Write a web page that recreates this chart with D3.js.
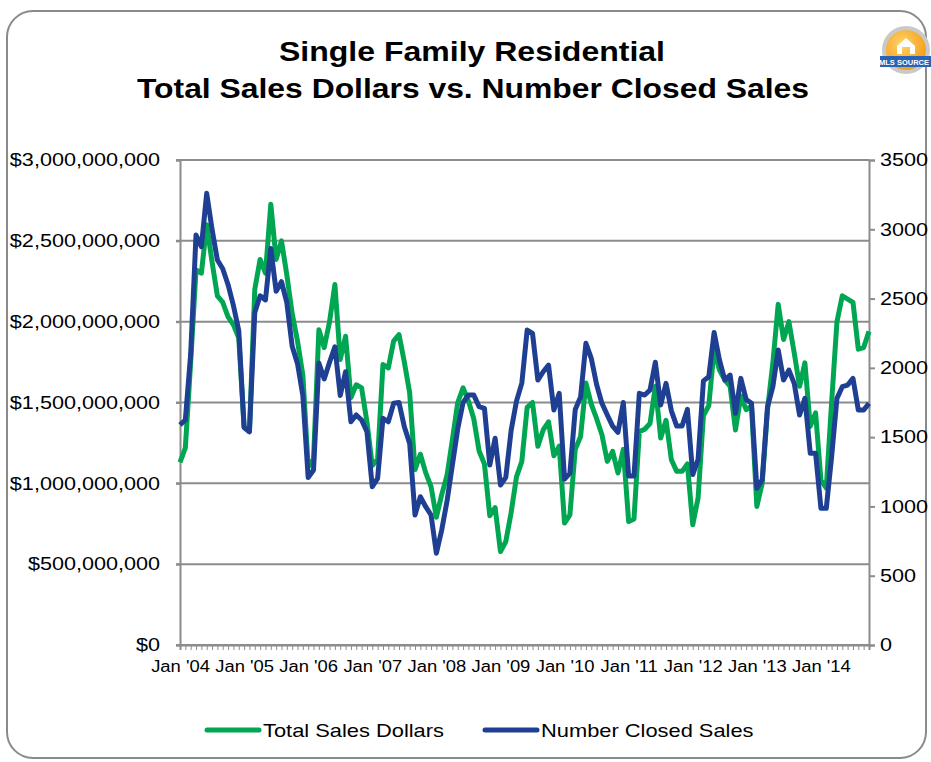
<!DOCTYPE html>
<html>
<head>
<meta charset="utf-8">
<script src="https://cdn.jsdelivr.net/npm/d3@7"></script>
<style>
html, body { margin: 0; padding: 0; background: #fff; }
svg { display: block; font-family: "Liberation Sans", Arial, Helvetica, sans-serif; }
</style>
</head>
<body>
<svg id="chart" width="931" height="762"></svg>
<script>
// monthly data, Jan 2004 - Oct 2014
// total sales dollars, in millions
var salesDollars = [
    1130, 1220, 1750, 2320, 2300, 2600, 2370, 2160, 2120, 2030, 1980, 1900,
    1350, 1320, 2200, 2385, 2300, 2726, 2385, 2500, 2290, 2050, 1880, 1670,
    1100, 1150, 1950, 1840, 2000, 2230, 1766, 1910, 1530, 1610, 1590, 1380,
    1110, 1150, 1735, 1714, 1880, 1920, 1750, 1560, 1085, 1180, 1066, 980,
    790, 930, 1050, 1270, 1500, 1590, 1510, 1400, 1200, 1120, 800, 850,
    578, 640, 820, 1040, 1136, 1470, 1500, 1230, 1330, 1380, 1170, 1230,
    754, 805, 1210, 1290, 1620, 1490, 1400, 1300, 1136, 1198, 1064, 1210,
    764, 780, 1320, 1335, 1370, 1600, 1280, 1390, 1146, 1074, 1074, 1120,
    744, 909, 1420, 1480, 1830, 1700, 1640, 1600, 1330, 1540, 1456, 1477,
    857, 1000, 1456, 1745, 2107, 1890, 2000, 1807, 1600, 1745, 1352, 1436,
    1020, 970, 1500, 2000, 2160, 2140, 2120, 1830, 1840, 1940
];

// number of closed sales
var closedSales = [
    1588, 1624, 2100, 2959, 2874, 3260, 3000, 2778, 2715, 2600, 2450, 2270,
    1570, 1539, 2400, 2520, 2490, 2862, 2553, 2622, 2470, 2156, 2030, 1800,
    1208, 1263, 2035, 1920, 2040, 2152, 1800, 1972, 1611, 1660, 1624, 1539,
    1142, 1203, 1636, 1611, 1744, 1750, 1575, 1455, 938, 1070, 998, 938,
    662, 830, 1040, 1300, 1560, 1750, 1804, 1804, 1720, 1708, 1299, 1492,
    1155, 1210, 1550, 1760, 1890, 2273, 2249, 1912, 1972, 2020, 1696, 1816,
    1197, 1240, 1700, 1790, 2177, 2069, 1880, 1744, 1660, 1580, 1535, 1750,
    1220, 1220, 1816, 1804, 1840, 2040, 1732, 1888, 1690, 1580, 1580, 1700,
    1230, 1340, 1906, 1936, 2255, 2057, 1912, 1948, 1672, 1924, 1772, 1744,
    1131, 1191, 1720, 1864, 2129, 1912, 1984, 1888, 1660, 1780, 1383, 1383,
    986, 986, 1359, 1780, 1864, 1876, 1924, 1696, 1696, 1744
];

var xTickLabels = ["Jan '04", "Jan '05", "Jan '06", "Jan '07", "Jan '08", "Jan '09",
                   "Jan '10", "Jan '11", "Jan '12", "Jan '13", "Jan '14"];
var dollarTicks = [0, 500, 1000, 1500, 2000, 2500, 3000];
var countTicks = [0, 500, 1000, 1500, 2000, 2500, 3000, 3500];
var seriesNames = ["Total Sales Dollars", "Number Closed Sales"];
var seriesColors = ["#00a651", "#1f3f92"];

(function() {
    var svg = d3.select('#chart');
    var gridColor = '#8c8c8c';

    // widen text a bit, the original chart is stretched horizontally
    function stretch(sel, k) {
        sel.each(function() {
            var w = this.getComputedTextLength();
            d3.select(this).attr('textLength', w * k).attr('lengthAdjust', 'spacingAndGlyphs');
        });
    }

    // frame
    svg.append('rect')
        .attr('x', 7).attr('y', 11)
        .attr('width', 919).attr('height', 747)
        .attr('rx', 26).attr('ry', 26)
        .attr('fill', '#fff')
        .attr('stroke', '#8a8a8a')
        .attr('stroke-width', 2);

    // title
    var title = svg.append('g').attr('font-weight', 'bold').attr('fill', '#000').attr('text-anchor', 'middle');
    title.append('text').attr('x', 472).attr('y', 61).attr('font-size', 28)
        .text('Single Family Residential')
        .attr('textLength', 386).attr('lengthAdjust', 'spacingAndGlyphs');
    title.append('text').attr('x', 473).attr('y', 98).attr('font-size', 28)
        .text('Total Sales Dollars vs. Number Closed Sales')
        .attr('textLength', 672).attr('lengthAdjust', 'spacingAndGlyphs');

    // logo
    var logo = svg.append('g').attr('transform', 'translate(906, 50)');
    var grad = svg.append('defs').append('radialGradient').attr('id', 'logoGrad')
        .attr('cx', '40%').attr('cy', '35%').attr('r', '70%');
    grad.append('stop').attr('offset', '0%').attr('stop-color', '#ffd36a');
    grad.append('stop').attr('offset', '100%').attr('stop-color', '#f29a12');
    logo.append('circle').attr('r', 24).attr('fill', '#c9c9c9');
    logo.append('circle').attr('r', 20).attr('fill', 'url(#logoGrad)');
    logo.append('path')
        .attr('d', 'M-9,4 L-9,-4 L0,-12 L9,-4 L9,4 L4,4 L4,-3 L-4,-3 L-4,4 Z')
        .attr('fill', '#fff');
    logo.append('rect').attr('x', -26).attr('y', 6).attr('width', 52).attr('height', 11).attr('fill', '#2a63b5');
    logo.append('text').attr('x', -2).attr('y', 15).attr('text-anchor', 'middle')
        .attr('font-size', 7.5).attr('font-weight', 'bold').attr('fill', '#fff').text('MLS SOURCE');

    // scales
    var plotLeft = 180, plotRight = 869, plotTop = 160, plotBottom = 645;
    var x = d3.scaleLinear().domain([0, salesDollars.length - 1]).range([plotLeft, plotRight]);
    var yDollar = d3.scaleLinear().domain([0, 3000]).range([plotBottom, plotTop]);
    var yCount = d3.scaleLinear().domain([0, 3500]).range([plotBottom, plotTop]);

    // grid
    svg.append('g').selectAll('line')
        .data(dollarTicks)
        .enter().append('line')
        .attr('x1', plotLeft - 4).attr('x2', plotRight)
        .attr('y1', function(d) { return yDollar(d); })
        .attr('y2', function(d) { return yDollar(d); })
        .attr('stroke', gridColor).attr('stroke-width', 2);

    // left axis
    var leftAxis = svg.append('g')
        .attr('transform', 'translate(' + plotLeft + ',0)')
        .call(d3.axisLeft(yDollar).tickValues(dollarTicks).tickSize(4).tickPadding(16)
            .tickFormat(function(d) { return d3.format('$,')(d * 1e6); }));
    leftAxis.select('.domain').attr('stroke', gridColor).attr('stroke-width', 2);
    leftAxis.selectAll('line').attr('stroke', gridColor).attr('stroke-width', 2);
    leftAxis.selectAll('text').attr('font-size', 18).attr('fill', '#000').attr('font-family', null);
    stretch(leftAxis.selectAll('text'), 1.2);

    // right axis
    var rightAxis = svg.append('g')
        .attr('transform', 'translate(' + plotRight + ',0)')
        .call(d3.axisRight(yCount).tickValues(countTicks).tickSize(6).tickPadding(5)
            .tickFormat(d3.format('d')));
    rightAxis.select('.domain').attr('stroke', gridColor).attr('stroke-width', 2);
    rightAxis.selectAll('line').attr('stroke', gridColor).attr('stroke-width', 2);
    rightAxis.selectAll('text').attr('font-size', 18).attr('fill', '#000').attr('font-family', null);
    stretch(rightAxis.selectAll('text'), 1.2);

    // bottom axis, one tick per month
    var bottomAxis = svg.append('g')
        .attr('transform', 'translate(0,' + plotBottom + ')')
        .call(d3.axisBottom(x).tickValues(d3.range(salesDollars.length)).tickSize(5).tickPadding(11)
            .tickFormat(function(d) { return d % 12 === 0 ? xTickLabels[d / 12] : ''; }));
    bottomAxis.select('.domain').attr('stroke', gridColor).attr('stroke-width', 2);
    bottomAxis.selectAll('line').attr('stroke', gridColor).attr('stroke-width', 1);
    bottomAxis.selectAll('text').attr('font-size', 16).attr('fill', '#000').attr('font-family', null);
    stretch(bottomAxis.selectAll('text'), 1.15);

    // lines
    var lineDollar = d3.line()
        .x(function(d, i) { return x(i); })
        .y(function(d) { return yDollar(d); });
    var lineCount = d3.line()
        .x(function(d, i) { return x(i); })
        .y(function(d) { return yCount(d); });

    svg.append('path').datum(salesDollars)
        .attr('d', lineDollar)
        .attr('fill', 'none')
        .attr('stroke', seriesColors[0])
        .attr('stroke-width', 5)
        .attr('stroke-linejoin', 'round');

    svg.append('path').datum(closedSales)
        .attr('d', lineCount)
        .attr('fill', 'none')
        .attr('stroke', seriesColors[1])
        .attr('stroke-width', 5)
        .attr('stroke-linejoin', 'round');

    // legend
    var legendPos = [205, 483];
    var legend = svg.append('g').selectAll('g')
        .data(seriesNames)
        .enter().append('g')
        .attr('transform', function(d, i) { return 'translate(' + legendPos[i] + ', 730)'; });
    legend.append('line')
        .attr('x1', 2).attr('x2', 54)
        .attr('stroke', function(d, i) { return seriesColors[i]; })
        .attr('stroke-width', 5)
        .attr('stroke-linecap', 'round');
    var legendText = legend.append('text')
        .attr('x', 58).attr('y', 7)
        .attr('font-size', 19)
        .text(function(d) { return d; });
    stretch(legendText, 1.15);
})();
</script>
</body>
</html>
